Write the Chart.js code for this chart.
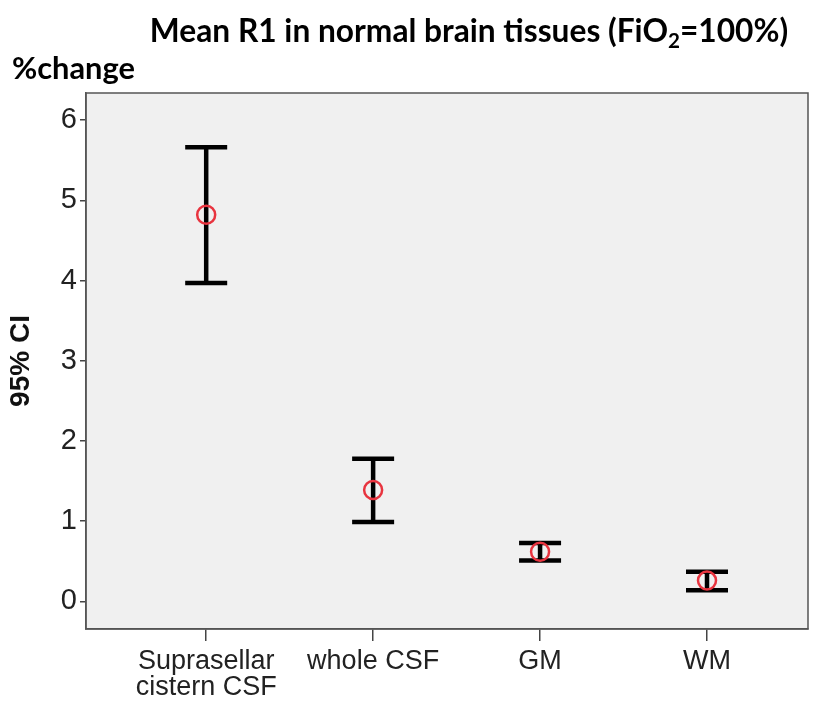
<!DOCTYPE html>
<html>
<head>
<meta charset="utf-8">
<script src="https://cdn.jsdelivr.net/npm/chart.js@4.4.1/dist/chart.umd.min.js"></script>
<style>
  html, body { margin: 0; padding: 0; background: #fff; }
  #wrap { width: 824px; height: 704px; }
</style>
</head>
<body>
<div id="wrap"><canvas id="chart" width="824" height="704"></canvas></div>
<script>
// data (95% CI of mean % change in R1)
const categories = [['Suprasellar', 'cistern CSF'], 'whole CSF', 'GM', 'WM'];
const positions = [1, 2, 3, 4];
const means = [4.82, 1.39, 0.62, 0.26];
const upper = [5.66, 1.78, 0.73, 0.37];
const lower = [3.97, 0.99, 0.51, 0.14];
const yTicks = [0, 1, 2, 3, 4, 5, 6];

const NARROW = "'Liberation Sans Narrow', 'Arial Narrow', 'Liberation Sans', Arial, sans-serif";
const TITLE_FONT = "Lato, 'Open Sans', sans-serif";

// fit a bold string into a target width
function fitFont(ctx, text, family, width) {
  ctx.font = 'bold 30px ' + family;
  const w = ctx.measureText(text).width;
  return 30 * width / w;
}

const plotBackground = {
  id: 'plotBackground',
  beforeDraw(chart) {
    const { ctx, chartArea: a } = chart;
    ctx.save();
    ctx.fillStyle = '#f0f0f0';
    ctx.fillRect(a.left, a.top, a.right - a.left, a.bottom - a.top);
    ctx.restore();
  },
  afterDraw(chart) {
    const { ctx, chartArea: a } = chart;
    ctx.save();
    ctx.strokeStyle = '#555';
    ctx.lineWidth = 1.5;
    ctx.strokeRect(a.left, a.top, a.right - a.left, a.bottom - a.top);
    ctx.restore();
  }
};

const errorBars = {
  id: 'errorBars',
  beforeDatasetsDraw(chart) {
    const { ctx, scales: { x, y } } = chart;
    ctx.save();
    ctx.strokeStyle = '#000';
    ctx.lineWidth = 4.5;
    positions.forEach((p, i) => {
      const px = x.getPixelForValue(p);
      const hi = y.getPixelForValue(upper[i]);
      const lo = y.getPixelForValue(lower[i]);
      ctx.beginPath();
      ctx.moveTo(px, hi);
      ctx.lineTo(px, lo);
      ctx.moveTo(px - 21, hi);
      ctx.lineTo(px + 21, hi);
      ctx.moveTo(px - 21, lo);
      ctx.lineTo(px + 21, lo);
      ctx.stroke();
    });
    ctx.restore();
  }
};

const headings = {
  id: 'headings',
  afterDraw(chart) {
    const ctx = chart.ctx;
    ctx.save();
    ctx.fillStyle = '#000';
    ctx.textBaseline = 'alphabetic';
    // main title with subscript 2
    const t1 = 'Mean R1 in normal brain tissues (FiO';
    const t2 = '2';
    const t3 = '=100%)';
    const size = fitFont(ctx, t1 + '2=100%)', TITLE_FONT, 645);
    const big = 'bold ' + size + 'px ' + TITLE_FONT;
    const small = 'bold ' + (size * 0.65) + 'px ' + TITLE_FONT;
    ctx.font = big;
    const w1 = ctx.measureText(t1).width, w3 = ctx.measureText(t3).width;
    ctx.font = small;
    const w2 = ctx.measureText(t2).width;
    let x = 469 - (w1 + w2 + w3) / 2;
    ctx.font = big; ctx.fillText(t1, x, 42); x += w1;
    ctx.font = small; ctx.fillText(t2, x, 48); x += w2;
    ctx.font = big; ctx.fillText(t3, x, 42);
    // unit label
    const s2 = fitFont(ctx, '%change', TITLE_FONT, 123);
    ctx.font = 'bold ' + s2 + 'px ' + TITLE_FONT;
    ctx.fillText('%change', 12, 79);
    ctx.restore();
  }
};

Chart.defaults.font.family = NARROW;
Chart.defaults.color = '#222';

new Chart(document.getElementById('chart'), {
  type: 'scatter',
  data: {
    datasets: [{
      data: positions.map((p, i) => ({ x: p, y: means[i] })),
      pointStyle: 'circle',
      pointRadius: 9,
      pointHoverRadius: 9,
      borderColor: '#e8343f',
      backgroundColor: 'rgba(0,0,0,0)',
      borderWidth: 2.5,
    }]
  },
  options: {
    responsive: false,
    animation: false,
    devicePixelRatio: 1,
    layout: { padding: { top: 93, right: 16, left: 0, bottom: 0 } },
    plugins: { legend: { display: false }, tooltip: { enabled: false } },
    scales: {
      x: {
        type: 'linear',
        min: 0.28,
        max: 4.605,
        afterBuildTicks: (s) => { s.ticks = positions.map(v => ({ value: v })); },
        afterFit: (s) => { s.height = 75; },
        grid: { display: true, drawOnChartArea: false, tickLength: 12, color: '#444', lineWidth: 1.5 },
        border: { display: true, color: '#555', width: 1.5 },
        ticks: {
          autoSkip: false,
          maxRotation: 0,
          padding: 8,
          font: { size: 27, lineHeight: 0.95 },
          color: '#222',
          callback: (v) => categories[positions.indexOf(v)] ?? '',
        },
      },
      y: {
        min: -0.343,
        max: 6.337,
        afterBuildTicks: (s) => { s.ticks = yTicks.map(v => ({ value: v })); },
        afterFit: (s) => { s.width = 86; },
        grid: { display: true, drawOnChartArea: false, tickLength: 6, color: '#444', lineWidth: 1.5 },
        border: { display: true, color: '#555', width: 1.5 },
        title: {
          display: true,
          text: '95% CI',
          font: { size: 28, weight: 'bold' },
          color: '#111',
          padding: { top: 4, bottom: 0 },
        },
        ticks: {
          padding: 3,
          font: { size: 29 },
          color: '#222',
        },
      },
    },
  },
  plugins: [plotBackground, errorBars, headings],
});
</script>
</body>
</html>
